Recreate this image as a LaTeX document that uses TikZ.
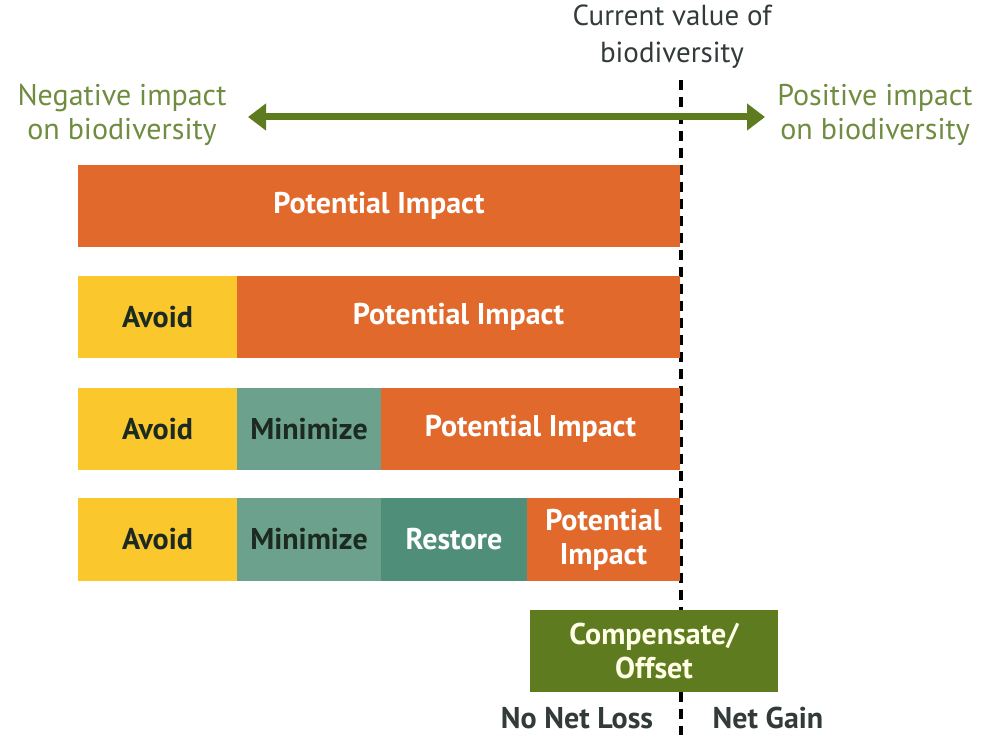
\documentclass[tikz,border=0pt]{standalone}
\usepackage{fontspec}
\setmainfont{PT Sans}
\usetikzlibrary{arrows.meta}
\definecolor{pimp}{HTML}{E0692B}
\definecolor{avo}{HTML}{FAC72C}
\definecolor{mini}{HTML}{6CA18D}
\definecolor{rest}{HTML}{4F8F79}
\definecolor{comp}{HTML}{5F7B1F}
\definecolor{lbl}{HTML}{6F8C40}
\definecolor{darktx}{HTML}{1C2A22}
\definecolor{graytx}{HTML}{333A3A}
\tikzset{
  bar/.style={draw=none, inner sep=0pt, font=\fontsize{30}{34}\selectfont\bfseries, align=center},
  pbar/.style={bar, fill=pimp, text=white},
  abar/.style={bar, fill=avo, text=darktx},
  mbar/.style={bar, fill=mini, text=darktx},
  rbar/.style={bar, fill=rest, text=white},
  cbar/.style={bar, fill=comp, text=white!90!yellow},
  side/.style={font=\fontsize{30}{34}\selectfont, text=lbl, align=center},
  top/.style={font=\fontsize{29}{37}\selectfont, text=graytx, align=center},
  bot/.style={font=\fontsize{30}{34}\selectfont\bfseries, text=graytx},
}
\begin{document}
\begin{tikzpicture}[x=1pt,y=-1pt]
\useasboundingbox (0,0) rectangle (992,735);
% dashed current value line
\coordinate (dtop) at (681,80);
\coordinate (dbot) at (681,735);
\draw[line width=4pt, dash pattern=on 10pt off 7pt, black] (dtop) -- (dbot);
% rows
\node[pbar, minimum width=602pt, minimum height=82pt] (p1) at (379,206) {Potential Impact};
\node[abar, minimum width=159pt, minimum height=82pt] (a2) at (157.5,317) {Avoid};
\node[pbar, minimum width=443pt, minimum height=82pt] (p2) at (458.5,317) {Potential Impact};
\node[abar, minimum width=159pt, minimum height=82pt] (a3) at (157.5,429) {Avoid};
\node[mbar, minimum width=144pt, minimum height=82pt] (m3) at (309,429) {Minimize};
\node[pbar, minimum width=299pt, minimum height=82pt] (p3) at (530.5,429) {Potential Impact};
\node[abar, minimum width=159pt, minimum height=83pt] (a4) at (157.5,539.5) {Avoid};
\node[mbar, minimum width=144pt, minimum height=83pt] (m4) at (309,539.5) {Minimize};
\node[rbar, minimum width=146pt, minimum height=83pt] (r4) at (454,539.5) {Restore};
\node[pbar, minimum width=153pt, minimum height=83pt] (p4) at (603.5,539.5) {Potential\\Impact};
\node[cbar, minimum width=248pt, minimum height=82pt] (c5) at (654,651) {Compensate/\\Offset};
% labels
\node[top] (cur) at (672,37) {Current value of\\biodiversity};
\node[side] (neg) at (122,115) {Negative impact\\on biodiversity};
\node[side] (pos) at (875,115) {Positive impact\\on biodiversity};
\node[bot] (nnl) at (577,718) {No Net Loss};
\node[bot] (ng) at (768,718) {Net Gain};
% arrow
\coordinate (al) at (248,117);
\coordinate (ar) at (765,117);
\draw[comp, line width=7pt, {Triangle[length=18pt,width=26pt]}-{Triangle[length=18pt,width=26pt]}] (al) -- (ar);
\end{tikzpicture}
\end{document}
